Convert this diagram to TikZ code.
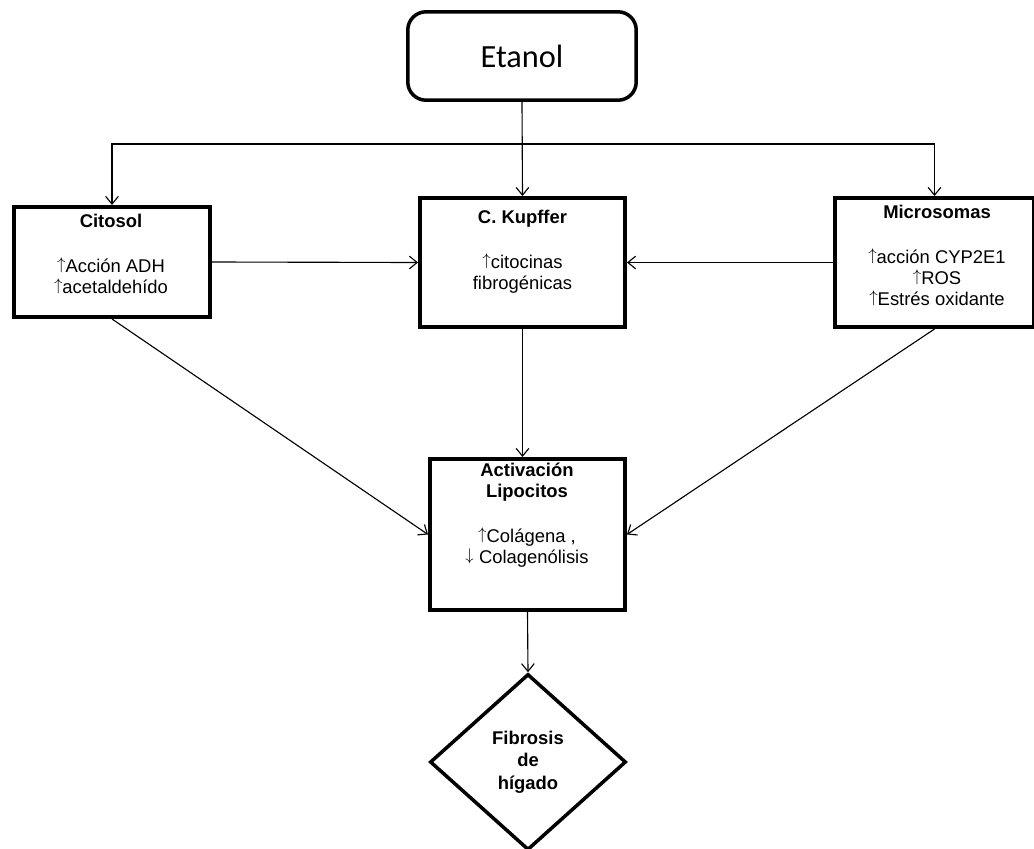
\documentclass[tikz,border=0pt]{standalone}
\usepackage{fontspec}
\setmainfont{Liberation Sans}
\newfontfamily\calibri{Carlito}
\usetikzlibrary{shapes.geometric,arrows.meta}

\newcommand{\up}{\smash{\raisebox{2.2pt}{\fontsize{12}{12}\selectfont$\uparrow$}}}
\newcommand{\down}{\smash{\raisebox{2.2pt}{\fontsize{12}{12}\selectfont$\downarrow$}}}

\begin{document}
\begin{tikzpicture}[x=0.025cm, y=-0.025cm,
    box/.style={draw, line width=2.8pt, inner sep=0pt},
    txt/.style={align=center, inner sep=0pt, anchor=north, font=\fontsize{13.1}{14.9}\selectfont},
    arr/.style={line width=0.8pt, -{Straight Barb[length=5.5pt,width=9pt]}}]

    \useasboundingbox (0,0) rectangle (1034,849);

    % boxes
    \node[draw, rounded corners=13pt, line width=2.5pt, minimum width=5.71cm, minimum height=2.21cm,
          font=\calibri\fontsize{23}{27}\selectfont] (etanol) at (522,56) {Etanol};
    \node[box, minimum width=4.9cm, minimum height=2.75cm] (citosol) at (112,262) {};
    \node[box, minimum width=5.125cm, minimum height=3.225cm] (kupffer) at (522.5,262.5) {};
    \node[box, minimum width=4.975cm, minimum height=3.225cm] (microsomas) at (934.5,262.5) {};
    \node[box, minimum width=4.875cm, minimum height=3.775cm] (activ) at (527.5,534.5) {};
    \node[draw, diamond, line width=2.5pt, inner sep=0pt, minimum width=4.9cm, minimum height=4.4cm,
          align=center, font=\bfseries\fontsize{13.1}{16}\selectfont] (fibrosis) at (528,762) {Fibrosis\\de\\hígado};

    % texts
    \node[txt] (citosoltxt) at (111,214) {\textbf{Citosol}\\[17pt]\up Acción ADH\\\up acetaldehído};
    \node[txt] (kupffertxt) at (522.5,210) {\textbf{C. Kupffer}\\[17pt]\up citocinas\\fibrogénicas};
    \node[txt] (microtxt) at (937,205) {\textbf{Microsomas}\\[17pt]\up acción CYP2E1\\\up ROS\\\up Estrés oxidante};
    \node[txt] (activtxt) at (527,463) {\textbf{Activación}\\\textbf{Lipocitos}\\[17pt]\up Colágena ,\\\down\ Colagenólisis};

    % connectors
    \coordinate (bus) at (522,144);
    \draw[arr] (etanol.south) -- (kupffer.north);
    \draw[arr] (bus) -| (citosol.north);
    \draw[arr] (bus) -| (microsomas.north);
    \draw[arr] (citosol.east) -- (kupffer.west);
    \draw[arr] (microsomas.west) -- (kupffer.east);
    \draw[arr] (kupffer.south) -- (kupffer.south |- activ.north);
    \draw[arr] (citosol.south) -- (activ.west);
    \draw[arr] (microsomas.south) -- (activ.east);
    \draw[arr] (activ.south) -- (fibrosis.north);

\end{tikzpicture}
\end{document}
